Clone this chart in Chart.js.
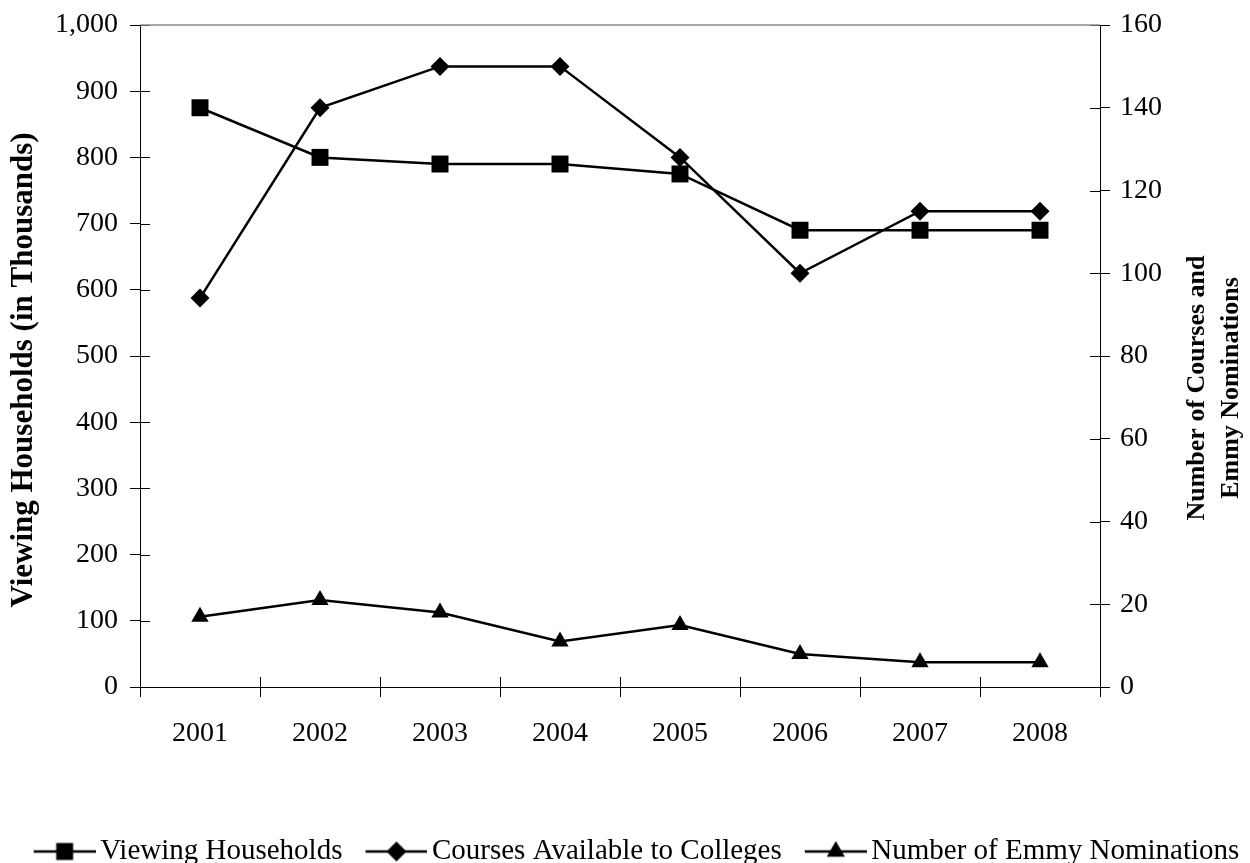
<!DOCTYPE html>
<html>
<head>
<meta charset="utf-8">
<script src="https://cdn.jsdelivr.net/npm/chart.js@4/dist/chart.umd.min.js"></script>
<style>
  html, body { margin: 0; padding: 0; background: #ffffff; }
  #wrap { width: 1250px; height: 863px; }
</style>
</head>
<body>
<div id="wrap"><canvas id="chart" width="1250" height="863"></canvas></div>
<script>
// ---- data ----
const years = ['2001', '2002', '2003', '2004', '2005', '2006', '2007', '2008'];
const households = [875, 800, 790, 790, 775, 690, 690, 690];   // thousands
const courses = [94, 140, 150, 150, 128, 100, 115, 115];
const emmys = [17, 21, 18, 11, 15, 8, 6, 6];

const seriesNames = ['Viewing Households', 'Courses Available to Colleges', 'Number of Emmy Nominations'];
const leftAxisRange = [0, 1000, 100];   // min, max, step
const rightAxisRange = [0, 160, 20];
const leftTitle = ['Viewing Households (in Thousands)'];
const rightTitle = ['Number of Courses and', 'Emmy Nominations'];

// ---- look ----
const FONT = '"Liberation Serif", "Times New Roman", Times, serif';
const FONT_SIZE = 28;
const LEGEND_SIZE = 29;
const LEGEND_DROP = 13;   // legend row sits lower than Chart.js would place it
const PLOT = { left: 140, rightGap: 150, top: 25, bottom: 687 };

// legend glyph: a short line with the series marker in the middle.
// The canvas is wider than the legend box so the line sits close to its text.
function legendGlyph(style, radius) {
  const c = document.createElement('canvas');
  c.width = 95; c.height = 26;
  const g = c.getContext('2d');
  g.strokeStyle = '#000'; g.lineWidth = 2.5;
  g.beginPath(); g.moveTo(33, 13); g.lineTo(95, 13); g.stroke();
  g.fillStyle = '#000';
  Chart.helpers.drawPoint(g, { pointStyle: style, radius: radius, borderWidth: 0, rotation: 0 }, 64, 13);
  return c;
}
const glyphs = [legendGlyph('rect', 12), legendGlyph('rectRot', 10), legendGlyph('triangle', 10.5)];

// tick marks cross the axis lines; Chart.js draws the outer half, this draws the inner half
const innerTicks = {
  id: 'innerTicks',
  afterDraw(chart) {
    const { ctx, chartArea: a } = chart;
    const len = 10;
    ctx.save();
    ctx.strokeStyle = '#000';
    ctx.lineWidth = 1;
    ctx.beginPath();
    const y = chart.scales.y, y1 = chart.scales.y1, x = chart.scales.x;
    y.ticks.forEach((t, i) => {
      const p = Math.round(y.getPixelForTick(i)) + 0.5;
      ctx.moveTo(a.left, p); ctx.lineTo(a.left + len, p);
    });
    y1.ticks.forEach((t, i) => {
      const p = Math.round(y1.getPixelForTick(i)) + 0.5;
      ctx.moveTo(a.right, p); ctx.lineTo(a.right - len, p);
    });
    const n = x.ticks.length;
    for (let i = 0; i <= n; i++) {
      const p = Math.round(x.getPixelForValue(i - 0.5)) + 0.5;
      ctx.moveTo(p, a.bottom); ctx.lineTo(p, a.bottom - len);
    }
    ctx.stroke();
    // top frame line
    ctx.strokeStyle = '#8a8a8a';
    ctx.lineWidth = 1.5;
    ctx.beginPath();
    ctx.moveTo(a.left, a.top); ctx.lineTo(a.right, a.top);
    ctx.stroke();
    ctx.restore();
  }
};

// axis titles, both reading bottom-to-top
function drawVerticalLines(ctx, lines, xs, cy, size) {
  ctx.save();
  ctx.font = 'bold ' + size + 'px ' + FONT;
  ctx.fillStyle = '#000';
  ctx.textAlign = 'center';
  ctx.textBaseline = 'middle';
  lines.forEach((line, i) => {
    ctx.save();
    ctx.translate(xs[i], cy);
    ctx.rotate(-Math.PI / 2);
    ctx.fillText(line, 0, 0);
    ctx.restore();
  });
  ctx.restore();
}
const axisTitles = {
  id: 'axisTitles',
  afterDraw(chart) {
    const { ctx, chartArea: a } = chart;
    const mid = (a.top + a.bottom) / 2;
    drawVerticalLines(ctx, leftTitle, [a.left - 116], mid + 14, 31);
    drawVerticalLines(ctx, rightTitle, [a.right + 97, a.right + 131], mid + 32, 26);
  }
};

// keep the plot rectangle fixed: no extra room reserved for half tick labels
function noEdgePadding(s) {
  s.paddingTop = 0; s.paddingBottom = 0; s.paddingLeft = 0; s.paddingRight = 0;
}

const lineStyle = { borderColor: '#000', backgroundColor: '#000', borderWidth: 2.5, pointBorderWidth: 0, pointHoverRadius: 0, tension: 0, fill: false };

new Chart(document.getElementById('chart'), {
  type: 'line',
  data: {
    labels: years,
    datasets: [
      Object.assign({ label: seriesNames[0], data: households, yAxisID: 'y', pointStyle: 'rect', pointRadius: 12 }, lineStyle),
      Object.assign({ label: seriesNames[1], data: courses, yAxisID: 'y1', pointStyle: 'rectRot', pointRadius: 9.5 }, lineStyle),
      Object.assign({ label: seriesNames[2], data: emmys, yAxisID: 'y1', pointStyle: 'triangle', pointRadius: 10 }, lineStyle)
    ]
  },
  options: {
    responsive: false,
    animation: false,
    devicePixelRatio: 1,
    layout: { padding: { top: PLOT.top, left: 0, right: 0, bottom: -LEGEND_DROP } },
    font: { family: FONT, size: FONT_SIZE },
    plugins: {
      tooltip: { enabled: false },
      legend: {
        position: 'bottom',
        labels: {
          usePointStyle: true,
          pointStyleWidth: 75,
          padding: 0,
          color: '#000',
          font: { family: FONT, size: LEGEND_SIZE, lineHeight: 1 },
          generateLabels(chart) {
            return chart.data.datasets.map((ds, i) => ({
              text: ds.label, pointStyle: glyphs[i], datasetIndex: i,
              fillStyle: '#000', strokeStyle: '#000', lineWidth: 0, hidden: false, fontColor: '#000'
            }));
          }
        }
      }
    },
    scales: {
      x: {
        type: 'category',
        offset: true,
        grid: { offset: true, drawOnChartArea: false, drawTicks: true, tickLength: 10, color: '#000', lineWidth: 1 },
        border: { display: true, color: '#000', width: 1 },
        ticks: { color: '#000', padding: 20, maxRotation: 0, font: { family: FONT, size: FONT_SIZE } },
        afterFit(s) {
          noEdgePadding(s);
          const legendH = s.chart.legend ? s.chart.legend.height : 0;
          s.height = s.chart.height + LEGEND_DROP - PLOT.bottom - legendH;
        }
      },
      y: {
        position: 'left',
        min: leftAxisRange[0], max: leftAxisRange[1],
        grid: { drawOnChartArea: false, drawTicks: true, tickLength: 10, color: '#000', lineWidth: 1 },
        border: { display: true, color: '#000', width: 1 },
        ticks: {
          stepSize: leftAxisRange[2], color: '#000', padding: 12,
          font: { family: FONT, size: FONT_SIZE },
          callback: v => Number(v).toLocaleString('en-US')
        },
        afterFit(s) { noEdgePadding(s); s.width = PLOT.left; }
      },
      y1: {
        position: 'right',
        min: rightAxisRange[0], max: rightAxisRange[1],
        grid: { drawOnChartArea: false, drawTicks: true, tickLength: 10, color: '#000', lineWidth: 1 },
        border: { display: true, color: '#000', width: 1 },
        ticks: { stepSize: rightAxisRange[2], color: '#000', padding: 10, font: { family: FONT, size: FONT_SIZE } },
        afterFit(s) { noEdgePadding(s); s.width = PLOT.rightGap; }
      }
    }
  },
  plugins: [innerTicks, axisTitles]
});
</script>
</body>
</html>
